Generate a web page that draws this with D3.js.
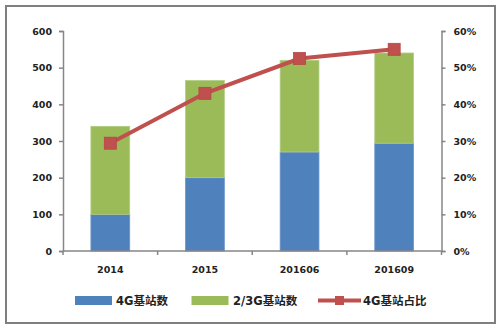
<!DOCTYPE html>
<html>
<head>
<meta charset="utf-8">
<script src="https://cdn.jsdelivr.net/npm/d3@7"></script>
<style>
  html, body { margin: 0; padding: 0; background: #fff; }
  svg { display: block; }
  text { font-family: "DejaVu Sans", "Noto Sans CJK SC", sans-serif; fill: #222; }
</style>
</head>
<body>
<svg id="chart" width="501" height="330"></svg>
<script>
// Base-station counts (unit: 10k) and the 4G share
const categories = ["2014", "2015", "201606", "201609"];
const count4G = [100, 200, 270, 294];
const count23G = [240, 265, 250, 246];
const share4G = [29.4, 43.0, 52.5, 55.0];
const leftTicks = [0, 100, 200, 300, 400, 500, 600];
const rightTicks = [0, 10, 20, 30, 40, 50, 60];
const seriesNames = ["4G基站数", "2/3G基站数", "4G基站占比"];

const colors = { blue: "#4F81BD", green: "#9BBB59", red: "#C0504D", axis: "#868686" };

const svg = d3.select("#chart");

// outer frame
svg.append("rect")
  .attr("x", 6).attr("y", 6).attr("width", 489).attr("height", 317)
  .attr("fill", "#fff").attr("stroke", "#7f7f7f").attr("stroke-width", 2);

const plot = { left: 63, right: 441.5, top: 31, bottom: 251 };

const x = d3.scaleBand().domain(categories)
  .range([plot.left, plot.right]).paddingInner(0.59).paddingOuter(0.295);
const band = d3.scaleBand().domain(categories).range([plot.left, plot.right]);
const yL = d3.scaleLinear().domain([0, 600]).range([plot.bottom, plot.top]);
const yR = d3.scaleLinear().domain([0, 60]).range([plot.bottom, plot.top]);

// stacked bars
const rows = categories.map((c, i) => ({ cat: c, g4: count4G[i], g23: count23G[i] }));
const stacked = d3.stack().keys(["g4", "g23"])(rows);
const barColors = [colors.blue, colors.green];
const barEdges = ["#6a94c8", "#b2cc84"];
stacked.forEach((layer, li) => {
  svg.append("g").selectAll("rect").data(layer).join("rect")
    .attr("x", d => x(d.data.cat))
    .attr("width", x.bandwidth())
    .attr("y", d => yL(d[1]))
    .attr("height", d => yL(d[0]) - yL(d[1]))
    .attr("fill", barColors[li])
    .attr("stroke", barEdges[li]).attr("stroke-width", 0.8);
});

const labelFont = g => g.style("font-size", "9.5px").style("font-weight", "bold").attr("fill", "#2a2a2a");

// axes
function styleAxis(g) {
  g.selectAll("path, line").attr("stroke", colors.axis).attr("stroke-width", 1.5);
  labelFont(g.selectAll("text"));
}

const leftAxis = svg.append("g").attr("transform", `translate(${plot.left},0)`)
  .call(d3.axisLeft(yL).tickValues(leftTicks).tickSize(4).tickSizeOuter(4).tickPadding(7));
styleAxis(leftAxis);

const rightAxis = svg.append("g").attr("transform", `translate(${plot.right},0)`)
  .call(d3.axisRight(yR).tickValues(rightTicks).tickFormat(d => d + "%")
    .tickSize(4).tickSizeOuter(4).tickPadding(8));
styleAxis(rightAxis);

// category axis: ticks on band boundaries, labels at band centres
const xAxisG = svg.append("g").attr("transform", `translate(0,${plot.bottom})`);
xAxisG.append("line").attr("x1", plot.left).attr("x2", plot.right)
  .attr("stroke", colors.axis).attr("stroke-width", 1.5);
const bounds = categories.map(c => band(c)).concat([plot.right]);
xAxisG.selectAll("line.tick").data(bounds).join("line").attr("class", "tick")
  .attr("x1", d => d).attr("x2", d => d).attr("y1", 0).attr("y2", 4)
  .attr("stroke", colors.axis).attr("stroke-width", 1.5);
labelFont(xAxisG.selectAll("text").data(categories).join("text")
  .attr("x", d => band(d) + band.bandwidth() / 2).attr("y", 22)
  .attr("text-anchor", "middle")
  .text(d => d));

// share line with square markers
const centre = c => x(c) + x.bandwidth() / 2;
const line = d3.line().x((d, i) => centre(categories[i])).y(d => yR(d));
svg.append("path").datum(share4G).attr("d", line)
  .attr("fill", "none").attr("stroke", colors.red).attr("stroke-width", 4);
svg.append("g").selectAll("rect").data(share4G).join("rect")
  .attr("x", (d, i) => centre(categories[i]) - 6)
  .attr("y", d => yR(d) - 6)
  .attr("width", 12).attr("height", 12)
  .attr("fill", colors.red).attr("stroke", "#b44743").attr("stroke-width", 0.8);

// legend
const lg = svg.append("g");
const ly = 300.5;
lg.append("rect").attr("x", 75).attr("y", ly - 4.5).attr("width", 37).attr("height", 9).attr("fill", colors.blue);
lg.append("text").attr("x", 116).attr("y", ly + 4).text(seriesNames[0]);
lg.append("rect").attr("x", 191.5).attr("y", ly - 4.5).attr("width", 37).attr("height", 9).attr("fill", colors.green);
lg.append("text").attr("x", 233).attr("y", ly + 4).text(seriesNames[1]);
lg.append("line").attr("x1", 318).attr("x2", 361).attr("y1", ly).attr("y2", ly)
  .attr("stroke", colors.red).attr("stroke-width", 4);
lg.append("rect").attr("x", 335).attr("y", ly - 4.5).attr("width", 9).attr("height", 9).attr("fill", colors.red);
lg.append("text").attr("x", 363).attr("y", ly + 4).text(seriesNames[2]);
lg.selectAll("text").style("font-size", "11.5px").style("font-weight", "bold").attr("fill", "#333");
</script>
</body>
</html>
